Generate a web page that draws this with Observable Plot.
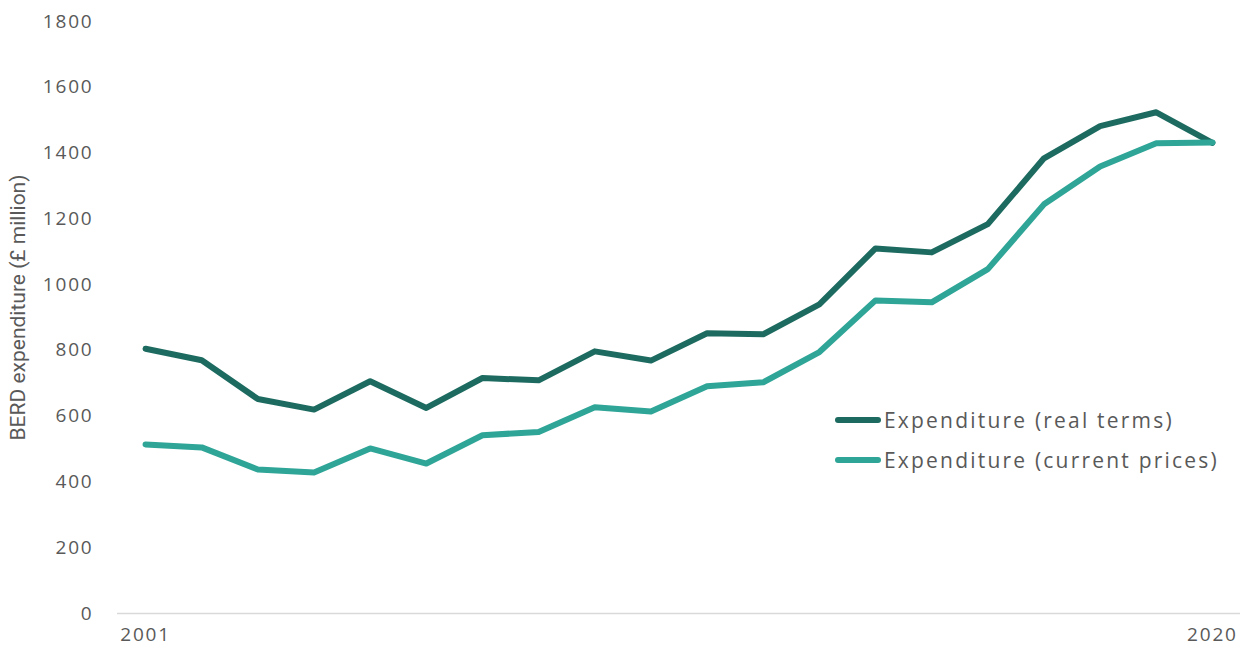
<!DOCTYPE html>
<html>
<head>
<meta charset="utf-8">
<script src="https://cdn.jsdelivr.net/npm/d3@7"></script>
<script src="https://cdn.jsdelivr.net/npm/@observablehq/plot@0.6"></script>
<style>
  html, body { margin: 0; padding: 0; background: #fff; }
  #wrap { position: relative; width: 1245px; height: 650px; }
  #legend { position: absolute; left: 835px; top: 400px; font-family: "Open Sans", sans-serif; font-size: 21px; color: #595959; letter-spacing: 2.2px; }
  .item { display: flex; align-items: center; height: 40px; }
  .sw { width: 46px; height: 6px; border-radius: 3px; margin-right: 3px; }
</style>
</head>
<body>
<div id="wrap"><div id="chart"></div>
<div id="legend"></div></div>
<script>
const years = d3.range(2001, 2021);
const realTerms = [805, 770, 652, 620, 706, 625, 716, 709, 797, 769, 852, 849, 940, 1110, 1098, 1184, 1384, 1482, 1524, 1431];
const currentPrices = [514, 505, 438, 429, 502, 456, 542, 552, 627, 614, 691, 703, 795, 952, 946, 1047, 1244, 1359, 1430, 1432];
const seriesNames = ["Expenditure (real terms)", "Expenditure (current prices)"];
const seriesColors = ["#1d6b60", "#2ea597"];
const yTicks = [0, 200, 400, 600, 800, 1000, 1200, 1400, 1600, 1800];
const xTickLabels = [2001, 2020];

const data = [];
years.forEach((y, i) => {
  data.push({year: y, value: realTerms[i], series: seriesNames[0]});
  data.push({year: y, value: currentPrices[i], series: seriesNames[1]});
});

const chart = Plot.plot({
  width: 1245,
  height: 650,
  marginLeft: 117,
  marginRight: 5,
  marginTop: 21,
  marginBottom: 37,
  style: {fontFamily: "Open Sans, sans-serif", fontSize: "19px", color: "#595959", letterSpacing: "1.8px"},
  x: {domain: [2000.5, 2020.5], ticks: xTickLabels, tickFormat: d => String(d), tickSize: 0, tickPadding: 14, label: null},
  y: {domain: [0, 1800], ticks: yTicks, tickFormat: d => String(d), tickSize: 0, tickPadding: 24, label: "BERD expenditure (£ million)", labelArrow: "none", labelAnchor: "center", labelOffset: 107},
  color: {domain: seriesNames, range: seriesColors},
  marks: [
    Plot.ruleY([0], {stroke: "#d9d9d9", strokeWidth: 1.5}),
    Plot.lineY(data, {x: "year", y: "value", z: "series", stroke: "series", strokeWidth: 6, strokeLinecap: "round", strokeLinejoin: "round"})
  ]
});
document.getElementById("chart").appendChild(chart);
chart.querySelectorAll("g[aria-label='y-axis label'] text").forEach(t => {
  t.style.fontFamily = "'Liberation Sans Narrow', Roboto, sans-serif";
  t.style.fontSize = "21px";
  t.style.letterSpacing = "0px";
  t.setAttribute("transform", (t.getAttribute("transform") || "") + " translate(10,0)");
});

const legend = document.getElementById("legend");
seriesNames.forEach((n, i) => {
  const it = document.createElement("div");
  it.className = "item";
  const sw = document.createElement("div");
  sw.className = "sw";
  sw.style.background = seriesColors[i];
  const tx = document.createElement("span");
  tx.textContent = n;
  it.appendChild(sw); it.appendChild(tx);
  legend.appendChild(it);
});
</script>
</body>
</html>
